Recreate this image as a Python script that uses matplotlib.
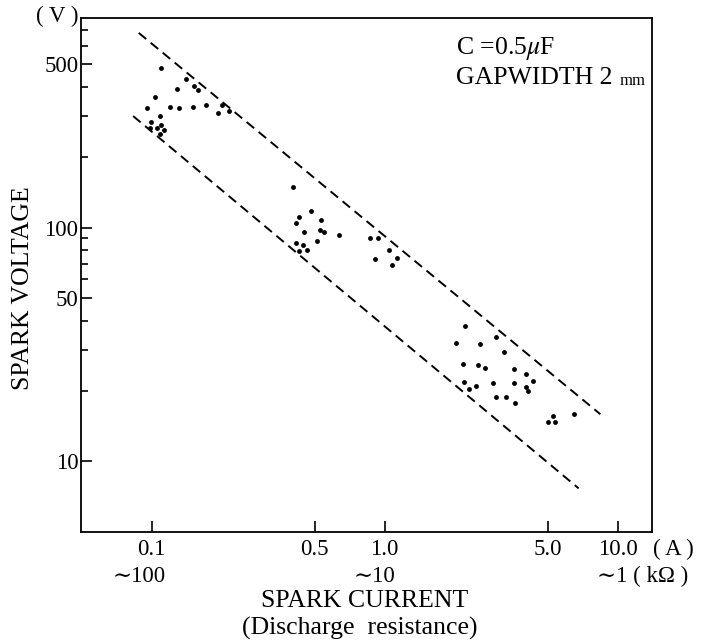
import numpy as np
import matplotlib
matplotlib.use("Agg")
import matplotlib.pyplot as plt
from matplotlib.ticker import FixedLocator, NullLocator, NullFormatter

plt.rcParams['font.family'] = ['Liberation Serif', 'DejaVu Serif']
plt.rcParams['mathtext.fontset'] = 'stix'

# spark current (A) and spark voltage (V)
current = [0.110, 0.141, 0.152, 0.158, 0.129, 0.103, 0.0955, 0.120, 0.1315, 0.151,
           0.171, 0.2005, 0.192, 0.215, 0.109, 0.0997, 0.110, 0.1055, 0.0987, 0.113,
           0.109,
           0.403, 0.483, 0.430, 0.531, 0.415, 0.449, 0.526, 0.551, 0.635, 0.513,
           0.418, 0.445, 0.465, 0.430,
           0.868, 0.937, 1.047, 1.13, 0.909, 1.07,
           2.22, 2.02, 2.56, 3.01, 3.25, 2.16, 2.52, 2.69, 3.58, 4.06,
           4.32, 2.18, 2.91, 3.58, 2.29, 2.46, 4.03, 4.12, 3.01, 3.31,
           3.64, 5.01, 5.28, 5.40, 6.50]
voltage = [483, 432, 402, 386, 392, 362, 325, 329, 324, 328,
           336, 336, 308, 314, 299, 284, 276, 267, 267, 262,
           251,
           149, 118, 111, 108, 105, 96.2, 97.2, 95.9, 93.1, 87.8,
           86.1, 84.4, 80.3, 79.1,
           90.4, 90.4, 80.3, 74.3, 73.5, 69.3,
           38.1, 32.0, 31.9, 34.1, 29.4, 26.2, 25.9, 25.0, 24.8, 23.6,
           22.0, 21.9, 21.6, 21.6, 20.4, 21.0, 20.8, 19.9, 18.9, 18.9,
           17.8, 14.8, 15.6, 14.7, 16.0]

# dashed envelope lines (end points)
upper_x = [0.0879, 8.43]
upper_y = [681, 15.9]
lower_x = [0.0832, 6.80]
lower_y = [300, 7.66]

xticks = [0.1, 0.5, 1.0, 5.0, 10.0]
xticklabels = ['0.1', '0.5', '1.0', '5.0', '10.0']
yticks = [10, 50, 100, 500]
yminor = [20, 30, 40, 60, 70, 80, 90, 200, 300, 400, 600, 700]

W, H = 708, 642
fig = plt.figure(figsize=(W / 100, H / 100), dpi=100)
ax = fig.add_axes([81 / W, 1 - 531.7 / H, 570.7 / W, 513.4 / H])

def px(x, y):
    return x / W, 1 - y / H

ax.plot(upper_x, upper_y, color='black', lw=1.4, dashes=(5, 3))
ax.plot(lower_x, lower_y, color='black', lw=1.4, dashes=(5, 3))
ax.plot(current, voltage, 'o', color='black', ms=3.5, mec='none')

ax.set_xscale('log')
ax.set_yscale('log')
ax.set_xlim(0.0497, 14.0)
ax.set_ylim(5.0, 786)

ax.xaxis.set_major_locator(FixedLocator(xticks))
ax.xaxis.set_minor_locator(NullLocator())
ax.set_xticklabels(xticklabels)
ax.yaxis.set_major_locator(FixedLocator(yticks))
ax.yaxis.set_minor_locator(FixedLocator(yminor))
ax.yaxis.set_minor_formatter(NullFormatter())
ax.set_yticklabels([str(v) for v in yticks])

ax.tick_params(which='both', direction='in', top=False, right=False, width=1.2)
ax.tick_params(which='major', length=8, labelsize=16.5)
ax.tick_params(which='minor', length=5)
ax.tick_params(axis='x', pad=5)
ax.tick_params(axis='y', pad=2)
for s in ax.spines.values():
    s.set_linewidth(1.3)

fs = 18.5
tk = 16.5
fig.text(*px(57, 16), '( V )', fontsize=tk, ha='center', va='center')
fig.text(*px(673, 549), '( A )', fontsize=tk, ha='center', va='center')
fig.text(*px(139, 576), '∼100', fontsize=tk, ha='center', va='center')
fig.text(*px(374, 576), '∼10', fontsize=tk, ha='center', va='center')
fig.text(*px(597, 576), '∼1 ( kΩ )', fontsize=tk, ha='left', va='center')
fig.text(*px(365, 601), 'SPARK CURRENT', fontsize=fs, ha='center', va='center')
fig.text(*px(360, 628), '(Discharge  resistance)', fontsize=fs, ha='center', va='center')
fig.text(*px(23, 288), 'SPARK VOLTAGE', fontsize=fs, ha='center', va='center',
         rotation=90)

fig.text(*px(456, 49), r'C =0.5$\mu$F', fontsize=fs, ha='left', va='center')
fig.text(*px(456, 78), 'GAPWIDTH 2', fontsize=fs, ha='left', va='center')
fig.text(*px(620, 81), 'mm', fontsize=12, ha='left', va='center')

fig.savefig('out.png', dpi=100)
